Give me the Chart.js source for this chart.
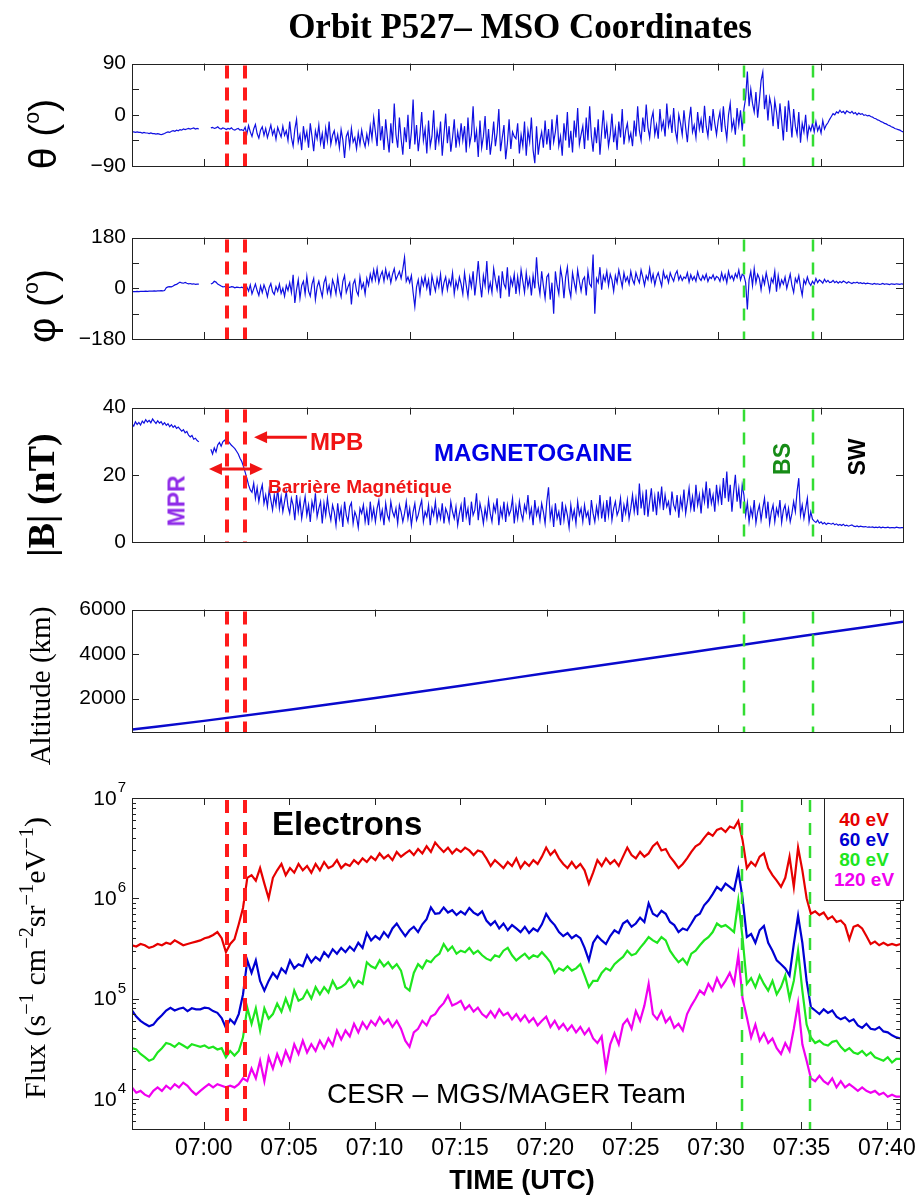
<!DOCTYPE html>
<html>
<head>
<meta charset="utf-8">
<script src="https://cdn.jsdelivr.net/npm/chart.js@4.4.1/dist/chart.umd.min.js"></script>
<style>
  body { margin: 0; background: #fff; width: 922px; height: 1196px; position: relative; overflow: hidden; }
  canvas { position: absolute; left: 0; }
  .lbl { position: absolute; white-space: nowrap; line-height: 1; font-family: "Liberation Sans", Arial, sans-serif; color: #000; }
  .c { transform: translate(-50%, -50%); }
  .l { transform: translateY(-50%); }
  .r { transform: translate(-50%, -50%) rotate(-90deg); }
  .serif { font-family: "Liberation Serif", "Times New Roman", serif; }
  .deg { font-size: 0.55em; position: relative; top: -0.8em; }
  .ex { font-size: 0.68em; position: relative; top: -0.6em; }
  #legend { position: absolute; left: 824px; top: 798px; width: 80px; height: 103px; box-sizing: border-box;
            border: 1px solid #222; background: #fff; }
  #legend span { position: absolute; left: 50%; transform: translate(-50%, -50%); font: bold 19px "Liberation Sans", Arial, sans-serif; white-space: nowrap; }
</style>
</head>
<body>
<canvas id="cTheta" width="922" height="177" style="top:45px"></canvas>
<canvas id="cPhi" width="922" height="176" style="top:219px"></canvas>
<canvas id="cB" width="922" height="209" style="top:389px"></canvas>
<canvas id="cAlt" width="922" height="197" style="top:591px"></canvas>
<canvas id="cFlux" width="922" height="387" style="top:782px"></canvas>

<div class="lbl c serif" style="left:520px;top:26px;font-weight:bold;font-size:35px">Orbit P527– MSO Coordinates</div>

<div class="lbl r" style="left:42px;top:134px;font-size:39px">θ (<span class="deg">o</span>)</div>
<div class="lbl r" style="left:41px;top:306px;font-size:39px">φ (<span class="deg">o</span>)</div>
<div class="lbl r serif" style="left:41px;top:495px;font-size:38px;font-weight:bold">|B| (nT)</div>
<div class="lbl r serif" style="left:40px;top:686px;font-size:29px">Altitude (km)</div>
<div class="lbl r serif" style="left:35px;top:958px;font-size:30px">Flux (s<span class="ex">−1</span> cm<span class="ex">−2</span>sr<span class="ex">−1</span>eV<span class="ex">−1</span>)</div>

<div class="lbl l" style="left:310px;top:442px;font-weight:bold;font-size:24px;color:#f01414">MPB</div>
<div class="lbl l" style="left:268px;top:486px;font-weight:bold;font-size:19px;color:#f01414">Barrière Magnétique</div>
<div class="lbl l" style="left:434px;top:453px;font-weight:bold;font-size:24px;color:#0000e6">MAGNETOGAINE</div>
<div class="lbl r" style="left:177px;top:501px;font-weight:bold;font-size:23px;color:#8f2be8">MPR</div>
<div class="lbl r" style="left:782px;top:459px;font-weight:bold;font-size:23px;color:#178c17">BS</div>
<div class="lbl r" style="left:857px;top:457px;font-weight:bold;font-size:23px;color:#000">SW</div>

<div class="lbl l" style="left:272px;top:823px;font-weight:bold;font-size:33px">Electrons</div>
<div class="lbl l" style="left:327px;top:1094px;font-size:28px">CESR – MGS/MAGER Team</div>
<div class="lbl c" style="left:522px;top:1180px;font-weight:bold;font-size:27px">TIME (UTC)</div>
<div id="legend"></div>

<script>
// time axis: minutes after 07:00 UTC
const X_MIN = -4.2, X_MAX = 40.78;
const MAG_T0 = -4.2, MAG_DT = 0.1;    // magnetometer samples
const FLUX_T0 = -4.2, FLUX_DT = 0.25; // electron reflectometer samples

const RED_EVENTS = [1.34, 2.39];
const GREEN_EVENTS = [31.49, 35.51];

const MAG_XTICKS = [0, 6, 12, 18, 24, 30, 36];
const ALT_XTICKS = [0, 10, 20, 30, 40];
const FLUX_XTICKS = [0, 5, 10, 15, 20, 25, 30, 35, 40];

const THETA_TICKS = [-90, -45, 0, 45, 90];
const PHI_TICKS = [-180, -90, 0, 90, 180];
const B_TICKS = [0, 20, 40];
const ALT_TICKS = [2000, 4000, 6000];
const FLUX_TICKS = [1e4, 1e5, 1e6, 1e7];

const ENERGY_LABELS = ['40 eV', '60 eV', '80 eV', '120 eV'];
const ENERGY_COLORS = ['#e60000', '#0000d2', '#1ee61e', '#f000f0'];

// θ (deg)
const THETA = [
  -30,-30,-31,-30,-31,-31,-32,-31,-32,-32,-33,-32,-33,-33,-34,-33,-34,-35,-34,-33,
  -31,-30,-31,-29,-28,-29,-27,-28,-26,-27,-25,-26,-25,-24,-25,-24,-23,-25,-24,-25,
  null,null,null,null,null,null,
  -23,-22,-24,-23,-21,-24,-25,-23,-24,-26,-24,-25,-23,-26,-27,-25,-24,-27,-26,-28,
  -22,-34,-19,-30,-38,-25,-17,-33,-41,-27,-21,-36,-24,-40,-29,-18,-35,-26,-43,-22,-31,-39,-20,-36,-28,-45,
  -12,-40,-55,-25,-8,-48,-35,-62,-20,-44,-30,-58,-15,-38,-64,-28,-42,-18,-50,-33,-60,-24,-46,-12,-52,-36,
  -28,-50,-35,-58,-26,-44,-76,-38,-30,-55,-24,-48,-40,-60,-32,-52,-27,-45,-56,-34,-50,-20,-42,-5,
  -30,-55,10,-45,-20,-62,-8,-40,-66,-15,-50,20,-35,-58,-5,-42,-70,-22,-48,0,
  -60,-30,27,-52,-18,-64,-35,5,-45,-25,-68,-10,-55,-38,8,-62,-28,-48,-12,-72,
  -35,2,-50,-20,-65,-40,-8,-58,-30,-50,-15,
  -45,-20,-66,-5,-52,-35,15,-48,-28,-74,-10,-58,-38,-2,-62,-25,-70,-45,-12,-55,
  -32,10,-64,-40,-18,-78,-50,-8,-60,-30,-38,-42,-15,-68,-35,-55,-12,-72,-28,-48,
  -5,-62,-85,-20,-70,-45,-30,-58,-10,-52,
  -25,-62,-8,-48,-30,0,-55,-38,-72,-15,-45,5,-58,-28,-66,-10,-40,12,-52,-35,
  -20,-60,-5,-45,15,-38,-65,-22,-50,-8,-70,-30,8,-42,-18,-55,-35,2,-48,-25,
  -62,-12,-40,10,-52,-28,-15,-45,-32,-55,
  -10,-38,15,-28,-45,-5,-30,18,-22,-40,-8,5,-35,-18,-42,10,-25,-12,-38,20,
  -20,-5,-32,12,-28,-45,0,-15,-35,8,-22,-48,-10,14,-30,-18,-40,5,-25,-8,
  -32,16,-20,-38,-2,-28,10,-15,-35,-10,
  5,-30,15,-20,-42,0,20,-25,-10,-35,12,-18,8,-28,
  10,30,76,15,45,20,5,40,-5,25,60,75,10,35,-10,30,15,-20,25,5,
  -25,20,-10,-45,15,-30,25,-5,-40,10,-20,-35,5,-49,-15,-30,0,-40,-20,-28,
  -15,-30,-12,-28,-20,-32,-10,-25,-18,-14,-8,
  -3,2,0,5,3,8,4,6,2,7,5,3,6,2,4,0,3,1,2,-1,0,-2,-1,
  -3,-4,-6,-7,-9,-10,-12,-13,-15,-16,-18,-19,-21,-22,-24,-25,-26,-27,-29,-30
];

// φ (deg)
const PHI = [
  -12,-12,-12,-11,-12,-11,-11,-11,-10,-11,-10,-10,-10,-9,-10,-9,-9,-8,-9,-8,
  2,5,6,5,8,12,14,18,22,19,18,21,18,16,17,15,16,14,15,15,
  null,null,null,null,null,null,
  15,18,25,22,15,12,8,5,6,8,4,3,6,5,2,4,3,2,4,1,
  -18,5,-10,12,-20,-2,15,-8,-25,8,-15,12,-5,-30,2,17,-12,-22,6,-10,15,-18,0,-28,10,-8,
  20,-15,48,-52,-5,30,-35,10,25,-20,42,-10,-28,15,35,-40,5,25,-5,-30,20,38,-15,10,-25,30,
  10,-20,40,-5,-30,25,45,-15,5,20,-57,15,30,-10,-25,40,0,18,-20,35,10,50,25,65,
  30,70,20,45,60,25,68,35,55,20,50,70,30,45,60,35,68,110,25,40,
  20,45,-15,-65,5,30,-20,35,10,42,0,30,-25,45,15,-10,35,5,50,-15,
  20,40,-5,30,10,55,-20,25,0,40,15,
  -20,55,10,-30,40,5,60,-25,30,97,20,-32,45,10,97,-10,20,-15,70,30,
  -5,45,-35,60,15,0,75,-30,35,10,50,-20,40,-10,65,25,-15,55,5,35,
  -25,45,0,110,20,-20,60,10,-35,40,
  50,-40,20,-90,60,10,-20,70,35,-35,40,75,0,-30,55,20,-10,65,25,-10,
  30,40,-25,60,15,5,120,-90,35,20,75,-5,45,25,60,10,50,30,-10,45,
  20,65,35,5,55,25,40,15,60,30,
  15,55,35,20,65,40,10,45,30,70,25,50,12,40,55,30,8,60,35,45,
  20,55,38,25,50,62,30,45,28,40,35,55,22,48,30,42,25,58,36,28,
  45,32,50,24,40,35,48,30,42,38,
  25,55,30,48,20,60,35,45,28,52,38,65,30,50,
  45,20,-75,30,60,10,70,20,50,35,-5,40,15,55,25,-10,35,20,60,-12,
  45,5,30,15,40,0,25,50,10,-15,35,20,45,5,-25,30,15,40,20,10,
  25,15,35,20,30,25,18,32,22,28,20,
  22,28,20,25,18,24,20,26,22,18,23,20,17,21,19,22,18,20,17,19,16,18,17,
  16,14,17,15,16,14,15,17,14,16,15,13,16,15,14,16,15,14,16,15
];

// |B| (nT)
const BMAG = [
  35.1,34.5,35.8,35.0,35.6,34.8,36.0,35.4,36.4,35.7,36.2,35.5,36.6,35.9,35.3,36.1,35.4,35.8,34.9,35.5,
  34.7,35.2,34.3,34.9,34.1,34.6,33.8,34.2,33.6,33.0,33.4,32.5,32.9,31.8,31.3,31.7,30.6,30.9,30.2,29.8,
  null,null,null,null,null,null,
  27.6,26.2,28.0,26.8,28.9,29.6,28.5,29.8,30.3,29.6,30.2,29.4,28.8,28.3,27.8,27.0,26.2,24.9,24.0,22.5,
  20.8,19,17,15.5,14.8,17.5,13,16.2,12,15,17,11.5,14,10.5,15.5,12.5,9.5,14,11,16,10,13.5,9,12,15,10.5,
  8.5,13,11,6.5,14,9,12.5,7,10.5,13.5,8,11,6,12,9.5,14.5,7.5,10,12,5.5,11.5,8,13,9,6.5,11,
  9,5,11.5,7,10,4.5,12,8,6,10.5,11.7,5.5,9,7.5,4.3,10,8.5,11,6,9.5,5,12,7,10,
  6,10,12.4,7,9.5,5,11.5,8,6.5,12,9,7.5,10,5.5,11,9,6,8.5,12,7,
  10,5,9,11.5,6.5,8,10.5,12.4,6,9,7.5,11,5,10,8,12,6.5,9.5,7,11.5,
  5.5,10,8.5,6,12,9,7,10.5,5,8.5,11,
  6,13.3,7.5,10,5,12,8,9.5,14.5,6.5,11.5,9,5.5,10,7,12.5,8.5,6,11,9,
  13,5,10,7.5,12,6,11,8,9.5,13,5.5,10.5,7,12,8.5,6.5,11,9,14,7.5,
  10,5,12.5,8,10,6.5,11.5,9,5.5,12,
  16.3,7,10,4.5,11.5,7,9,5,12,6.5,10.5,8,4.3,11,7,9.5,5.5,12,8,10,
  6,11,7.5,9,5,12.5,8.5,6,10.5,7.5,14,7,11,6,12.5,8,13.5,6.5,10,12,
  8,9.5,13,6,11,8.5,12.5,7,10,14,
  9,13,8,17.4,10,14,8,15.6,7.5,12,16,9,13.5,8,15,11,16.5,9.5,14,10.5,
  12,8,15,11,9.5,14,7.2,13,10,15.6,8.5,12,16,10,13.5,9,17,11,14,8.5,
  15,12,18,10,16,11.5,14,9,17,12,
  16,11,19,13,21,12,17,9,15,20,12,16,10,17,
  14,8,11.7,6,10,7.5,12.5,5.6,9,11,6.5,10,13,7,12,5.5,9,11,6,10,
  8,12.5,5.8,9.5,11,7,10,6,8.5,12,9,15,19,8,11,7,10,13,6,9,
  6.8,6.2,5.8,6.5,5.6,6.0,5.4,5.8,5.2,5.6,5.5,
  5.3,5.6,5.1,5.4,5.0,5.2,4.9,5.3,4.8,5.0,4.7,4.9,5.1,4.7,4.6,4.8,4.5,4.7,4.6,4.5,4.6,4.4,4.5,
  4.4,4.5,4.3,4.4,4.3,4.5,4.2,4.4,4.3,4.3,4.4,4.2,4.3,4.3,4.2,4.4,4.3,4.2,4.3,4.3
];

// altitude (km)
const ALT_T = [-4.2, 0, 5, 10, 15, 20, 25, 30, 35, 40.78];
const ALT_KM = [610, 1000, 1500, 2030, 2580, 3150, 3700, 4260, 4820, 5450];

// electron flux (s-1 cm-2 sr-1 eV-1)
const FLUX_40 = [
  3.4e5,3.3e5,3.5e5,3.4e5,3.2e5,3.3e5,3.5e5,3.4e5,3.6e5,3.5e5,3.8e5,3.6e5,3.4e5,3.5e5,3.6e5,3.7e5,
  3.8e5,4.0e5,4.1e5,4.3e5,4.6e5,4.0e5,2.9e5,
  3.5e5,3.9e5,5.5e5,8.0e5,1.6e6,1.7e6,1.5e6,2.0e6,
  1.4e6,1.0e6,1.6e6,1.9e6,2.2e6,1.7e6,2.0e6,1.8e6,2.2e6,
  1.9e6,2.1e6,1.8e6,2.2e6,1.9e6,2.3e6,2.0e6,2.1e6,2.4e6,2.0e6,2.2e6,
  2.1e6,2.4e6,2.2e6,2.5e6,2.3e6,2.6e6,2.4e6,2.8e6,2.5e6,2.7e6,2.4e6,2.9e6,
  2.6e6,2.8e6,3.0e6,2.7e6,3.1e6,2.8e6,3.3e6,2.9e6,3.6e6,3.2e6,
  2.9e6,3.2e6,2.8e6,3.1e6,2.9e6,3.2e6,3.0e6,2.7e6,3.0e6,2.9e6,2.5e6,
  2.1e6,2.4e6,2.2e6,2.0e6,2.3e6,2.1e6,2.5e6,2.0e6,2.3e6,2.1e6,2.4e6,2.2e6,2.6e6,
  3.2e6,2.7e6,3.0e6,2.5e6,2.2e6,2.0e6,2.3e6,2.0e6,
  2.2e6,1.9e6,1.4e6,1.8e6,2.4e6,2.1e6,2.5e6,2.2e6,
  2.4e6,2.1e6,2.6e6,3.2e6,2.7e6,2.5e6,2.9e6,2.6e6,2.8e6,3.3e6,
  3.6e6,3.0e6,3.1e6,2.6e6,2.3e6,2.0e6,2.2e6,2.5e6,2.9e6,3.3e6,3.5e6,
  4.0e6,4.5e6,4.2e6,4.8e6,5.0e6,4.6e6,5.2e6,5.0e6,5.9e6,3.8e6,
  2.0e6,2.3e6,2.1e6,2.6e6,2.8e6,2.0e6,1.7e6,1.5e6,1.3e6,1.6e6,2.6e6,1.3e6,3.2e6,1.9e6,1.0e6,
  7.0e5,7.4e5,6.8e5,7.2e5,6.2e5,6.6e5,5.8e5,6.0e5,5.4e5,3.9e5,5.2e5,5.4e5,
  5.0e5,4.2e5,3.5e5,3.7e5,3.4e5,3.6e5,3.4e5,3.5e5,3.4e5,3.5e5
];
const FLUX_60 = [
  7.6e4,6.6e4,6.0e4,5.6e4,5.3e4,5.5e4,6.2e4,6.8e4,7.6e4,8.1e4,7.6e4,7.9e4,8.1e4,7.5e4,8.0e4,7.8e4,
  7.8e4,8.1e4,8.0e4,7.5e4,7.2e4,6.4e4,5.1e4,
  6.2e4,5.6e4,7.0e4,1.1e5,2.4e5,1.8e5,2.4e5,1.5e5,
  1.2e5,1.5e5,1.8e5,1.6e5,2.0e5,1.8e5,2.4e5,2.0e5,2.2e5,
  2.1e5,2.7e5,2.3e5,2.6e5,2.4e5,2.9e5,2.6e5,3.1e5,2.8e5,3.2e5,2.9e5,
  3.3e5,3.0e5,3.6e5,3.2e5,4.5e5,3.8e5,4.2e5,3.9e5,4.6e5,4.1e5,5.0e5,5.6e5,
  4.8e5,4.2e5,4.8e5,5.2e5,4.6e5,5.5e5,6.2e5,8.1e5,7.0e5,7.1e5,
  8.1e5,7.2e5,7.6e5,6.8e5,7.4e5,6.9e5,8.0e5,7.2e5,6.8e5,7.4e5,6.0e5,
  5.4e5,5.9e5,5.0e5,5.6e5,4.8e5,5.4e5,5.0e5,4.6e5,5.2e5,4.5e5,5.0e5,4.7e5,5.5e5,
  7.0e5,6.0e5,5.4e5,4.6e5,4.2e5,4.5e5,4.0e5,4.3e5,
  4.0e5,3.2e5,2.4e5,3.6e5,4.2e5,3.8e5,3.5e5,4.2e5,
  4.8e5,4.5e5,5.6e5,6.0e5,5.2e5,5.6e5,6.4e5,5.8e5,8.9e5,7.0e5,
  6.6e5,7.5e5,7.0e5,5.8e5,5.4e5,4.6e5,5.0e5,4.8e5,5.6e5,6.6e5,7.0e5,
  8.5e5,9.5e5,1.1e6,1.3e6,1.2e6,1.4e6,1.3e6,1.2e6,1.9e6,1.0e6,
  4.1e5,4.4e5,3.6e5,4.8e5,5.3e5,3.6e5,3.0e5,2.4e5,2.2e5,2.0e5,1.7e5,3.5e5,6.7e5,3.6e5,1.5e5,
  8.2e4,7.6e4,7.0e4,7.8e4,7.2e4,7.6e4,6.6e4,6.2e4,6.5e4,5.9e4,6.2e4,5.4e4,
  5.1e4,5.6e4,5.0e4,4.9e4,5.2e4,4.7e4,4.6e4,4.3e4,4.1e4,4.0e4
];
const FLUX_80 = [
  3.2e4,3.1e4,2.8e4,2.6e4,2.4e4,2.5e4,2.9e4,3.2e4,3.6e4,3.5e4,3.3e4,3.6e4,3.4e4,3.2e4,3.5e4,3.4e4,
  3.3e4,3.4e4,3.2e4,3.3e4,3.1e4,3.2e4,2.6e4,
  3.0e4,2.7e4,3.0e4,4.1e4,8.1e4,5.6e4,8.0e4,4.8e4,
  8.0e4,6.3e4,7.0e4,8.9e4,7.4e4,1.0e5,7.8e4,1.2e5,9.5e4,
  1.0e5,1.2e5,1.0e5,1.3e5,1.1e5,1.3e5,1.15e5,1.5e5,1.25e5,1.3e5,1.4e5,
  1.6e5,1.3e5,1.5e5,1.4e5,2.3e5,2.1e5,2.0e5,2.4e5,2.1e5,2.3e5,2.0e5,2.2e5,
  1.9e5,1.3e5,1.2e5,1.8e5,2.2e5,2.0e5,2.4e5,2.3e5,2.6e5,2.8e5,
  3.5e5,3.0e5,3.3e5,2.8e5,3.0e5,2.9e5,3.2e5,2.8e5,3.0e5,2.7e5,2.5e5,
  2.4e5,2.7e5,2.6e5,3.0e5,3.2e5,2.7e5,2.4e5,2.6e5,2.8e5,2.5e5,2.7e5,2.6e5,2.9e5,
  2.6e5,2.3e5,1.8e5,2.0e5,1.9e5,2.1e5,1.9e5,2.0e5,
  2.2e5,1.7e5,1.3e5,1.5e5,1.5e5,1.8e5,2.0e5,1.9e5,
  2.2e5,2.4e5,2.6e5,3.0e5,2.7e5,2.8e5,3.2e5,3.6e5,4.1e5,3.8e5,
  3.6e5,4.1e5,3.8e5,3.0e5,2.6e5,2.3e5,2.5e5,2.2e5,2.8e5,3.0e5,3.4e5,
  3.8e5,4.1e5,4.6e5,5.6e5,5.2e5,5.4e5,5.0e5,4.6e5,9.5e5,4.0e5,
  1.4e5,1.6e5,1.3e5,1.7e5,1.4e5,1.2e5,1.5e5,1.1e5,1.3e5,1.7e5,1.0e5,1.5e5,3.0e5,1.2e5,5.5e4,
  4.1e4,3.6e4,3.8e4,3.5e4,3.4e4,3.7e4,3.8e4,3.3e4,3.0e4,3.2e4,2.9e4,2.8e4,
  3.0e4,2.7e4,2.9e4,2.6e4,2.5e4,2.4e4,2.6e4,2.3e4,2.5e4,2.5e4
];
const FLUX_120 = [
  1.3e4,1.15e4,1.2e4,1.1e4,1.05e4,1.2e4,1.3e4,1.2e4,1.35e4,1.25e4,1.4e4,1.3e4,1.45e4,1.35e4,1.2e4,1.1e4,
  1.2e4,1.3e4,1.4e4,1.3e4,1.4e4,1.35e4,1.3e4,
  1.35e4,1.3e4,1.4e4,1.6e4,1.5e4,2.0e4,1.6e4,2.4e4,
  1.5e4,2.6e4,2.0e4,2.8e4,2.2e4,3.0e4,2.4e4,3.5e4,2.8e4,
  3.8e4,2.9e4,3.5e4,3.0e4,3.8e4,3.2e4,4.0e4,3.4e4,4.8e4,3.9e4,4.8e4,
  4.2e4,5.6e4,4.6e4,5.8e4,5.0e4,6.0e4,5.4e4,6.5e4,5.6e4,6.2e4,5.2e4,6.0e4,
  5.0e4,3.8e4,3.3e4,4.6e4,5.0e4,6.0e4,5.4e4,6.6e4,7.0e4,8.1e4,
  9.0e4,1.07e5,8.5e4,8.9e4,9.5e4,7.8e4,8.6e4,7.4e4,8.1e4,7.0e4,6.5e4,
  7.5e4,6.5e4,7.8e4,6.8e4,7.2e4,6.2e4,7.0e4,6.0e4,6.8e4,5.8e4,6.4e4,5.4e4,6.0e4,
  6.6e4,5.2e4,6.0e4,5.0e4,5.6e4,4.8e4,5.4e4,4.6e4,
  5.2e4,4.4e4,5.0e4,4.0e4,3.6e4,4.2e4,2.0e4,3.5e4,
  4.5e4,3.5e4,5.5e4,6.2e4,5.0e4,7.5e4,6.0e4,8.5e4,1.4e5,7.0e4,
  6.2e4,7.5e4,5.8e4,6.5e4,5.1e4,5.6e4,4.8e4,7.0e4,8.5e4,1.0e5,1.2e5,
  1.1e5,1.4e5,1.2e5,1.6e5,1.3e5,1.5e5,1.8e5,1.4e5,2.7e5,1.0e5,
  6.5e4,4.1e4,5.5e4,3.8e4,4.5e4,3.6e4,4.0e4,3.2e4,2.8e4,3.6e4,3.0e4,5.0e4,9.0e4,3.5e4,2.4e4,
  1.6e4,1.5e4,1.7e4,1.5e4,1.4e4,1.6e4,1.3e4,1.5e4,1.3e4,1.4e4,1.3e4,1.2e4,
  1.3e4,1.2e4,1.15e4,1.2e4,1.1e4,1.15e4,1.05e4,1.1e4,1.05e4,1.05e4
];

const FONT = '"Liberation Sans", Arial, sans-serif';
const toPoints = (vals, t0, dt) => vals.map((v, i) => ({ x: t0 + i * dt, y: v }));

/* ─── arrows of the |B| panel, in data units ─── */
const B_ARROWS = [
  { from: 6.0, to: 2.92, y: 31.2, both: false },
  { from: 0.29, to: 3.44, y: 21.7, both: true }
];

function drawArrows(chart) {
  const { ctx, scales: { x, y } } = chart;
  ctx.strokeStyle = ctx.fillStyle = '#f01414';
  ctx.lineWidth = 3;
  ctx.setLineDash([]);
  const head = (px, py, dir) => {
    ctx.beginPath();
    ctx.moveTo(px, py);
    ctx.lineTo(px + dir * 13, py - 6);
    ctx.lineTo(px + dir * 13, py + 6);
    ctx.closePath();
    ctx.fill();
  };
  B_ARROWS.forEach(a => {
    const x1 = x.getPixelForValue(a.from), x2 = x.getPixelForValue(a.to), py = y.getPixelForValue(a.y);
    const dir = x2 < x1 ? 1 : -1;
    ctx.beginPath();
    ctx.moveTo(a.both ? x1 - dir * 8 : x1, py);
    ctx.lineTo(x2 + dir * 8, py);
    ctx.stroke();
    head(x2, py, dir);
    if (a.both) head(x1, py, -dir);
  });
}

/* ─── MATLAB-like frame: box, inward ticks, event lines ─── */
const frame = {
  id: 'frame',
  afterDatasetsDraw(chart, args, o) {
    const { ctx, chartArea: a, scales: { x } } = chart;
    ctx.save();
    ctx.beginPath();
    ctx.rect(a.left, a.top, a.width, a.height);
    ctx.clip();
    const drawEvents = (list, color, w, dash) => list.forEach(t => {
      const px = Math.round(x.getPixelForValue(t));
      ctx.strokeStyle = color;
      ctx.lineWidth = w;
      ctx.setLineDash(dash);
      ctx.beginPath();
      ctx.moveTo(px, a.top + 2);
      ctx.lineTo(px, a.bottom);
      ctx.stroke();
    });
    drawEvents(RED_EVENTS, '#ff1a1a', 4, [13, 9]);
    drawEvents(GREEN_EVENTS, '#33dd33', 2.5, [12, 11]);
    ctx.restore();
  },
  afterDraw(chart, args, o) {
    const { ctx, chartArea: a, scales: { x, y } } = chart;
    ctx.save();
    ctx.strokeStyle = '#222';
    ctx.lineWidth = 1;
    ctx.setLineDash([]);
    ctx.beginPath();
    const tick = (len) => v => {
      const p = Math.round(y.getPixelForValue(v)) + 0.5;
      ctx.moveTo(a.left, p); ctx.lineTo(a.left + len, p);
      ctx.moveTo(a.right, p); ctx.lineTo(a.right - len, p);
    };
    o.xTicks.forEach(v => {
      const p = Math.round(x.getPixelForValue(v)) + 0.5;
      ctx.moveTo(p, a.bottom); ctx.lineTo(p, a.bottom - 7);
      ctx.moveTo(p, a.top); ctx.lineTo(p, a.top + 7);
    });
    o.yTicks.forEach(tick(7));
    (o.yMinor || []).forEach(tick(4));
    ctx.stroke();
    ctx.strokeRect(Math.round(a.left) + 0.5, Math.round(a.top) + 0.5, Math.round(a.width), Math.round(a.height));

    if (o.logLabels) {
      ctx.fillStyle = '#000';
      ctx.textAlign = 'right';
      ctx.textBaseline = 'middle';
      o.yTicks.forEach(v => {
        const p = y.getPixelForValue(v);
        const e = String(Math.round(Math.log10(v)));
        ctx.font = '15px ' + FONT;
        const ew = ctx.measureText(e).width;
        ctx.fillText(e, a.left - 6, p - 10);
        ctx.font = '21px ' + FONT;
        ctx.fillText('10', a.left - 7 - ew, p + 1);
      });
    }
    if (o.extra) o.extra(chart);
    ctx.restore();
  }
};

function makeChart(id, datasets, yScale, xTicks, yTicks, opts = {}) {
  const yBase = {
    bounds: 'data',
    grid: { display: false, drawTicks: false },
    border: { display: false },
    afterBuildTicks: s => { s.ticks = yTicks.map(v => ({ value: v })); },
    afterFit: s => { s.width = 132; },
    ticks: {
      font: { family: FONT, size: 21 }, color: '#000', padding: 6,
      callback: v => String(v).replace('-', '\u2212')
    }
  };
  return new Chart(document.getElementById(id), {
    type: 'line',
    data: { datasets },
    options: {
      responsive: false,
      animation: false,
      events: [],
      layout: { padding: { top: 16, bottom: opts.showX ? 0 : 16, left: 0, right: 19 } },
      elements: { point: { radius: 0 }, line: { tension: 0 } },
      plugins: {
        legend: { display: false },
        tooltip: { enabled: false },
        frame: { xTicks, yTicks, yMinor: opts.yMinor, logLabels: opts.logLabels, extra: opts.extra }
      },
      scales: {
        x: {
          type: 'linear', min: X_MIN, max: X_MAX, bounds: 'data',
          display: !!opts.showX,
          grid: { display: false, drawTicks: false },
          border: { display: false },
          afterBuildTicks: s => { s.ticks = xTicks.map(v => ({ value: v })); },
          afterFit: s => { s.height = 40; },
          ticks: {
            font: { family: FONT, size: 23 }, color: '#000', padding: 6,
            maxRotation: 0, autoSkip: false,
            callback: v => '07:' + String(v).padStart(2, '0')
          }
        },
        y: Object.assign(yBase, yScale)
      }
    },
    plugins: [frame]
  });
}

const magLine = (vals, color) => ({
  data: toPoints(vals, MAG_T0, MAG_DT), borderColor: color, borderWidth: 1.2, spanGaps: false
});

makeChart('cTheta', [magLine(THETA, 'rgb(15,15,225)')], { min: -90, max: 90 }, MAG_XTICKS, THETA_TICKS);
makeChart('cPhi', [magLine(PHI, 'rgb(15,15,225)')], { min: -180, max: 180 }, MAG_XTICKS, PHI_TICKS);
makeChart('cB', [magLine(BMAG, 'rgb(15,15,225)')], { min: 0, max: 40 }, MAG_XTICKS, B_TICKS, { extra: drawArrows });

makeChart('cAlt', [{
  data: ALT_T.map((t, i) => ({ x: t, y: ALT_KM[i] })),
  borderColor: 'rgb(10,10,205)', borderWidth: 2.5, cubicInterpolationMode: 'monotone'
}], { min: 500, max: 6000 }, ALT_XTICKS, ALT_TICKS);

// minor log ticks 2..9 x 10^n inside the axis range
const FLUX_MIN = 5000, FLUX_MAX = 1e7;
const fluxMinor = [];
[3, 4, 5, 6].forEach(n => { for (let m = 2; m <= 9; m++) { const v = m * Math.pow(10, n); if (v >= FLUX_MIN && v <= FLUX_MAX) fluxMinor.push(v); } });

const FLUX_SERIES = [FLUX_40, FLUX_60, FLUX_80, FLUX_120];
makeChart('cFlux', FLUX_SERIES.map((vals, k) => ({
  label: ENERGY_LABELS[k],
  data: toPoints(vals, FLUX_T0, FLUX_DT),
  borderColor: ENERGY_COLORS[k], borderWidth: 2.2
})).reverse(), { type: 'logarithmic', min: FLUX_MIN, max: FLUX_MAX, ticks: { display: false } },
  FLUX_XTICKS, FLUX_TICKS, { showX: true, yMinor: fluxMinor, logLabels: true });

// legend box (top right of the flux panel)
const legend = document.getElementById('legend');
ENERGY_LABELS.forEach((lab, k) => {
  const s = document.createElement('span');
  s.textContent = lab;
  s.style.color = ENERGY_COLORS[k];
  s.style.top = (21 + k * 20) + 'px';
  legend.appendChild(s);
});
</script>
</body>
</html>
